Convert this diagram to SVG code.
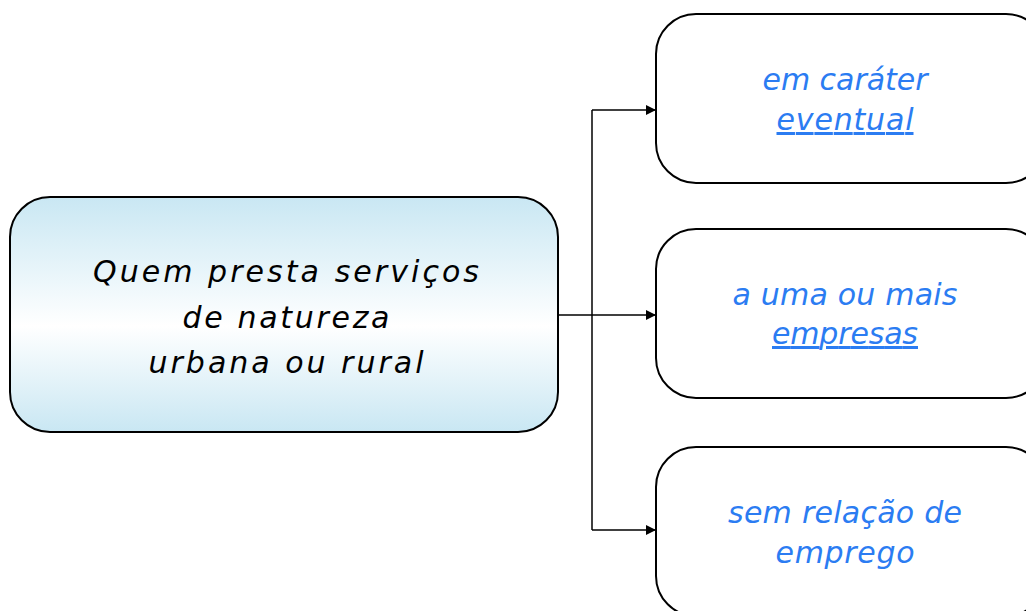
<svg xmlns="http://www.w3.org/2000/svg" width="1026" height="611" viewBox="0 0 1026 611">
<defs>
<linearGradient id="g" x1="0" y1="0" x2="0" y2="1">
<stop offset="0" stop-color="#c9e7f3"/>
<stop offset="0.55" stop-color="#ffffff"/>
<stop offset="1" stop-color="#c9e7f3"/>
</linearGradient>
<marker id="arr" markerWidth="10" markerHeight="10" refX="9" refY="5" orient="auto" markerUnits="userSpaceOnUse">
<path d="M0,0 L10,5 L0,10 Z" fill="#000"/>
</marker>
<style>
.box{stroke:#000;stroke-width:2}
.t{font-family:"DejaVu Sans","Open Sans",sans-serif;font-style:italic;font-size:30px;text-anchor:middle}
.b{fill:#2b7cf2}
.k{fill:#000}
.c{fill:none;stroke:#000;stroke-width:1.5}
</style>
</defs>
<g id="connectors">
<path class="c" d="M558,315 H592"/>
<path class="c" d="M592,110 V530"/>
<path class="c" d="M592,110 H655" marker-end="url(#arr)"/>
<path class="c" d="M592,315 H655" marker-end="url(#arr)"/>
<path class="c" d="M592,530 H655" marker-end="url(#arr)"/>
</g>
<g id="source">
<rect class="box" x="10" y="197" width="548" height="235" rx="40" fill="url(#g)"/>
<text class="t k" x="286" y="282" textLength="386" lengthAdjust="spacing">Quem presta serviços</text>
<text class="t k" x="286" y="328" textLength="207" lengthAdjust="spacing">de natureza</text>
<text class="t k" x="286" y="373" textLength="275" lengthAdjust="spacing">urbana ou rural</text>
</g>
<g id="n1">
<rect class="box" x="656" y="14" width="390" height="169" rx="40" fill="#fff"/>
<text class="t b" x="845" y="90" textLength="165" lengthAdjust="spacing">em caráter</text>
<text class="t b" x="845" y="130" textLength="137" lengthAdjust="spacing" text-decoration="underline">eventual</text>
</g>
<g id="n2">
<rect class="box" x="656" y="229" width="390" height="169" rx="40" fill="#fff"/>
<text class="t b" x="845" y="305" textLength="225" lengthAdjust="spacing">a uma ou mais</text>
<text class="t b" x="845" y="344" textLength="146" lengthAdjust="spacing" text-decoration="underline">empresas</text>
</g>
<g id="n3">
<rect class="box" x="656" y="447" width="390" height="169" rx="40" fill="#fff"/>
<text class="t b" x="845" y="523" textLength="234" lengthAdjust="spacing">sem relação de</text>
<text class="t b" x="845" y="563" textLength="139" lengthAdjust="spacing">emprego</text>
</g>
</svg>
